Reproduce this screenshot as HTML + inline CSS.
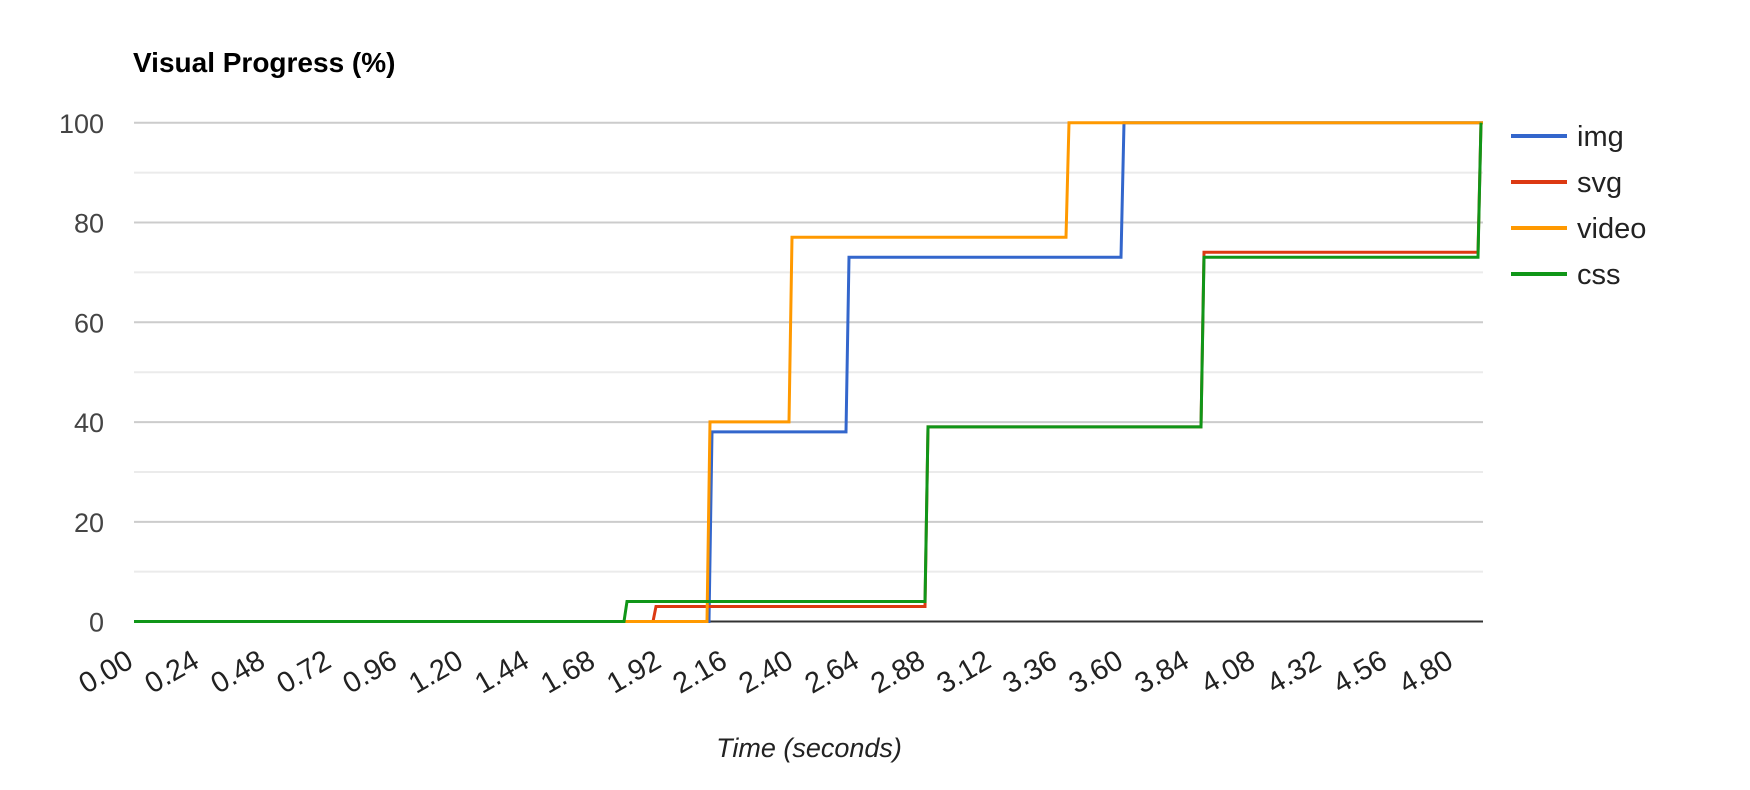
<!DOCTYPE html>
<html><head><meta charset="utf-8"><style>
html,body{margin:0;padding:0;background:#fff;}
svg{display:block;}
text{font-family:"Liberation Sans",Arial,sans-serif;}
</style></head><body>
<svg width="1750" height="790" viewBox="0 0 1750 790" xmlns="http://www.w3.org/2000/svg">
<rect width="1750" height="790" fill="#fff"/>
<text x="133" y="72" font-size="28" font-weight="bold" fill="#000">Visual Progress (%)</text>
<g stroke-width="2">
<line x1="134" x2="1483" y1="172.6" y2="172.6" stroke="#ebebeb"/>
<line x1="134" x2="1483" y1="272.4" y2="272.4" stroke="#ebebeb"/>
<line x1="134" x2="1483" y1="372.2" y2="372.2" stroke="#ebebeb"/>
<line x1="134" x2="1483" y1="472" y2="472" stroke="#ebebeb"/>
<line x1="134" x2="1483" y1="571.6" y2="571.6" stroke="#ebebeb"/>
<line x1="134" x2="1483" y1="122.7" y2="122.7" stroke="#cccccc"/>
<line x1="134" x2="1483" y1="222.5" y2="222.5" stroke="#cccccc"/>
<line x1="134" x2="1483" y1="322.3" y2="322.3" stroke="#cccccc"/>
<line x1="134" x2="1483" y1="422.1" y2="422.1" stroke="#cccccc"/>
<line x1="134" x2="1483" y1="521.9" y2="521.9" stroke="#cccccc"/>
<line x1="134" x2="1483" y1="621.5" y2="621.5" stroke="#333333"/>
</g>
<g font-size="27" fill="#444" text-anchor="end">
<text x="104" y="133">100</text>
<text x="104" y="232.5">80</text>
<text x="104" y="332.3">60</text>
<text x="104" y="432.1">40</text>
<text x="104" y="531.9">20</text>
<text x="104" y="631.5">0</text>
</g>
<g font-size="29" fill="#222" text-anchor="end">
<text transform="translate(135,666) rotate(-30)">0.00</text>
<text transform="translate(201,666) rotate(-30)">0.24</text>
<text transform="translate(267,666) rotate(-30)">0.48</text>
<text transform="translate(333,666) rotate(-30)">0.72</text>
<text transform="translate(399,666) rotate(-30)">0.96</text>
<text transform="translate(465,666) rotate(-30)">1.20</text>
<text transform="translate(531,666) rotate(-30)">1.44</text>
<text transform="translate(597,666) rotate(-30)">1.68</text>
<text transform="translate(663,666) rotate(-30)">1.92</text>
<text transform="translate(729,666) rotate(-30)">2.16</text>
<text transform="translate(795,666) rotate(-30)">2.40</text>
<text transform="translate(861,666) rotate(-30)">2.64</text>
<text transform="translate(927,666) rotate(-30)">2.88</text>
<text transform="translate(993,666) rotate(-30)">3.12</text>
<text transform="translate(1059,666) rotate(-30)">3.36</text>
<text transform="translate(1125,666) rotate(-30)">3.60</text>
<text transform="translate(1191,666) rotate(-30)">3.84</text>
<text transform="translate(1257,666) rotate(-30)">4.08</text>
<text transform="translate(1323,666) rotate(-30)">4.32</text>
<text transform="translate(1389,666) rotate(-30)">4.56</text>
<text transform="translate(1455,666) rotate(-30)">4.80</text>
</g>
<text x="809" y="757" font-size="27" font-style="italic" fill="#222" text-anchor="middle">Time (seconds)</text>
<g fill="none" stroke-width="3" stroke-linejoin="miter">
<polyline stroke="#3366cc" points="134,621.5 709,621.5 712,431.9 846,431.9 849,257.2 1121,257.2 1124,122.7 1483,122.7"/>
<polyline stroke="#dc3912" points="134,621.5 653,621.5 656,606.5 925,606.5 928,426.9 1201,426.9 1204,252.2 1478,252.2 1481,122.7"/>
<polyline stroke="#ff9900" points="134,621.5 707,621.5 710,421.9 789,421.9 792,237.3 1066,237.3 1069,122.7 1483,122.7"/>
<polyline stroke="#109618" points="134,621.5 624,621.5 627,601.5 925,601.5 928,426.9 1201,426.9 1204,257.2 1478,257.2 1481,122.7"/>
</g>
<g stroke-width="4">
<line x1="1511" x2="1567" y1="136" y2="136" stroke="#3366cc"/>
<line x1="1511" x2="1567" y1="182" y2="182" stroke="#dc3912"/>
<line x1="1511" x2="1567" y1="228" y2="228" stroke="#ff9900"/>
<line x1="1511" x2="1567" y1="274" y2="274" stroke="#109618"/>
</g>
<g font-size="29" fill="#222">
<text x="1577" y="146">img</text>
<text x="1577" y="192">svg</text>
<text x="1577" y="238">video</text>
<text x="1577" y="284">css</text>
</g>
</svg>
</body></html>
